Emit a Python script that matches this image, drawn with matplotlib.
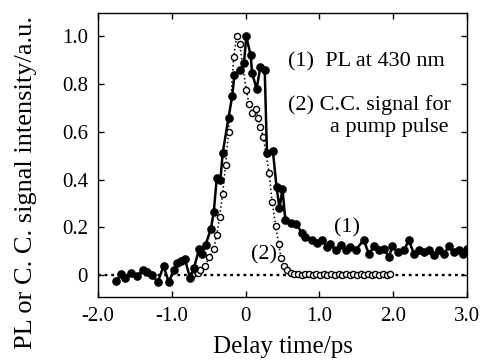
import matplotlib
matplotlib.use("Agg")
import matplotlib.pyplot as plt
from matplotlib.ticker import FixedLocator, FixedFormatter

plt.rcParams["font.family"] = ["Liberation Serif", "DejaVu Serif"]

# (1) PL at 430 nm  -- filled dots, solid line
pl_t = [-1.75, -1.69, -1.63, -1.55, -1.47, -1.39, -1.33, -1.26, -1.19, -1.11,
        -1.04, -0.97, -0.93, -0.87, -0.82, -0.75, -0.70, -0.63, -0.59, -0.54,
        -0.47, -0.43, -0.39, -0.34, -0.31, -0.23, -0.18, -0.15, -0.07, -0.02,
        0.01, 0.07, 0.09, 0.15, 0.20, 0.26, 0.29, 0.37, 0.42, 0.46,
        0.50, 0.54, 0.61, 0.68, 0.77, 0.81, 0.90, 0.97, 1.04, 1.11,
        1.15, 1.22, 1.29, 1.36, 1.42, 1.49, 1.60, 1.67, 1.74, 1.81,
        1.87, 1.94, 1.99, 2.06, 2.15, 2.21, 2.28, 2.35, 2.42, 2.48,
        2.55, 2.62, 2.69, 2.75, 2.82, 2.89, 2.95, 3.00]
pl_i = [-0.025, 0.003, -0.013, 0.010, -0.004, 0.020, 0.014, 0.000, -0.030, 0.038,
        -0.028, 0.020, 0.050, 0.060, 0.066, -0.014, 0.028, 0.108, 0.087, 0.128,
        0.193, 0.265, 0.405, 0.398, 0.510, 0.660, 0.750, 0.840, 0.860, 0.890,
        1.000, 0.920, 0.845, 0.780, 0.870, 0.860, 0.510, 0.520, 0.370, 0.280,
        0.360, 0.230, 0.220, 0.216, 0.175, 0.158, 0.147, 0.135, 0.147, 0.116,
        0.130, 0.105, 0.126, 0.105, 0.119, 0.105, 0.147, 0.090, 0.120, 0.105,
        0.110, 0.077, 0.120, 0.098, 0.105, 0.147, 0.090, 0.105, 0.098, 0.105,
        0.084, 0.105, 0.090, 0.120, 0.098, 0.105, 0.090, 0.108]

# (2) C.C. signal for a pump pulse -- open circles, dotted line
cc_t = [-0.72, -0.65, -0.61, -0.55, -0.49, -0.43, -0.39, -0.35, -0.31, -0.27,
        -0.23, -0.16, -0.12, -0.08, 0.01, 0.05, 0.09, 0.14, 0.17, 0.20,
        0.24, 0.32, 0.36, 0.41, 0.45, 0.48, 0.52, 0.56, 0.61, 0.66,
        0.71, 0.76, 0.81, 0.86, 0.91, 0.96, 1.01, 1.06, 1.11, 1.16,
        1.21, 1.26, 1.31, 1.36, 1.41, 1.46, 1.51, 1.56, 1.61, 1.66,
        1.71, 1.76, 1.81, 1.86, 1.91, 1.95]
cc_i = [0.000, 0.007, 0.020, 0.040, 0.074, 0.110, 0.170, 0.245, 0.340, 0.460,
        0.600, 0.915, 1.000, 0.970, 0.775, 0.715, 0.680, 0.694, 0.660, 0.620,
        0.580, 0.426, 0.307, 0.205, 0.130, 0.070, 0.038, 0.020, 0.010, 0.006,
        0.004, 0.002, 0.005, 0.003, 0.001, 0.004, 0.002, 0.003, 0.000, 0.004,
        0.002, 0.003, 0.001, 0.004, 0.002, 0.003, 0.000, 0.004, 0.002, 0.003,
        0.001, 0.004, 0.002, 0.003, 0.002, 0.004]

x_ticks = [-2.0, -1.0, 0.0, 1.0, 2.0, 3.0]
x_labels = ["-2.0", "-1.0", "0", "1.0", "2.0", "3.0"]
y_ticks = [0.0, 0.2, 0.4, 0.6, 0.8, 1.0]
y_labels = ["0", "0.2", "0.4", "0.6", "0.8", "1.0"]

fig = plt.figure(figsize=(4.82, 3.61), dpi=100)
ax = fig.add_axes([0.203, 0.177, 0.766, 0.787])

ax.axhline(0, color="black", linestyle=(0, (1.2, 1.6)), linewidth=1.7, zorder=1)
ax.plot(cc_t, cc_i, linestyle=":", color="black", linewidth=1.1,
        marker="o", markersize=4.4, markerfacecolor="white",
        markeredgecolor="black", markeredgewidth=1.0, zorder=2)
ax.plot(pl_t, pl_i, linestyle="-", color="black", linewidth=1.8,
        marker="o", markersize=5.2, markerfacecolor="black",
        markeredgecolor="black", zorder=3)

ax.set_xlim(-2.0, 3.0)
ax.set_ylim(-0.092, 1.098)
ax.xaxis.set_major_locator(FixedLocator(x_ticks))
ax.xaxis.set_major_formatter(FixedFormatter(x_labels))
ax.yaxis.set_major_locator(FixedLocator(y_ticks))
ax.yaxis.set_major_formatter(FixedFormatter(y_labels))
ax.tick_params(direction="in", length=4, width=1, top=True, right=True,
               labelsize=15, pad=7)
for sp in ax.spines.values():
    sp.set_linewidth(1.0)

ax.set_xlabel("Delay time/ps", fontsize=18, labelpad=7)
ax.set_ylabel("PL or C. C. signal intensity/a.u.", fontsize=19)
ax.yaxis.set_label_coords(-0.165, 0.405)

ax.text(0.58, 0.895, "(1)  PL at 430 nm", fontsize=16, va="center", ha="left")
ax.text(0.57, 0.712, "(2) C.C. signal for", fontsize=16, va="center", ha="left")
ax.text(1.14, 0.62, "a pump pulse", fontsize=16, va="center", ha="left")
ax.text(1.38, 0.20, "(1)", fontsize=16, va="center", ha="center")
ax.text(0.25, 0.085, "(2)", fontsize=16, va="center", ha="center")

fig.savefig("out.png", dpi=100)
